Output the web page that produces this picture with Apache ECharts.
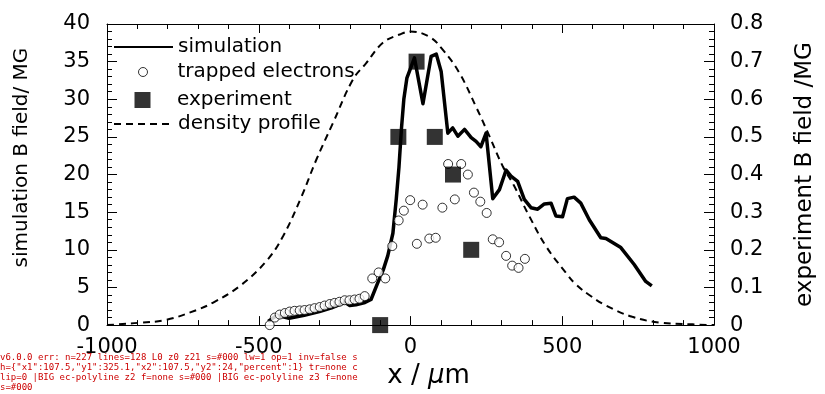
<!DOCTYPE html>
<html>
<head>
<meta charset="utf-8">
<script src="https://cdn.jsdelivr.net/npm/echarts@6/dist/echarts.min.js"></script>
<style>
html, body { margin: 0; padding: 0; background: #fff; }
#chart { width: 825px; height: 394px; }
#dbg { position: absolute; left: 0; top: 352px; width: 360px; font: 9px monospace; line-height: 10px; color: #c00; word-break: break-all; }
</style>
</head>
<body>
<div id="chart"></div>
<div id="dbg"></div>
<script>
const errs = [];
window.onerror = function (m) { errs.push(String(m)); };

// simulation B field (left axis, MG)
const simX = [-469, -440, -400, -350, -300, -260, -230, -215, -200, -180, -150, -130, -108, -90, -75, -58, -47, -38, -30, -22, -12, 13, 41, 68, 85, 101, 123, 139, 156, 178, 200, 216, 232, 249, 271, 293, 315, 331, 353, 375, 397, 419, 441, 463, 479, 501, 517, 539, 561, 589, 627, 644, 693, 737, 775, 795];
const simY = [0.5, 1.3, 0.9, 1.3, 1.8, 2.3, 2.8, 3.0, 2.6, 2.7, 3.0, 3.4, 5.6, 7.3, 9.2, 12.2, 16.7, 21, 26, 30, 32.8, 35.5, 29.4, 35.7, 36, 33.7, 25.5, 26.2, 25.1, 26, 24.9, 24.4, 23.7, 25.5, 16.8, 18, 20.6, 19.8, 19.1, 16.7, 15.6, 15.4, 16.1, 16.2, 14.5, 14.4, 16.8, 17.0, 16.2, 14.0, 11.6, 11.5, 10.3, 8.05, 5.8, 5.2];

// trapped electrons (left axis)
const trapX = [-464, -447, -431, -414, -398, -382, -365, -349, -332, -316, -299, -283, -266, -250, -234, -217, -201, -184, -168, -151, -126, -105, -83, -60, -39, -22, -1, 21, 40, 62, 83, 105, 124, 146, 167, 189, 209, 230, 251, 271, 292, 315, 335, 356, 377];
const trapY = [0, 1.0, 1.4, 1.6, 1.8, 1.9, 1.95, 2.0, 2.1, 2.25, 2.4, 2.6, 2.8, 2.95, 3.1, 3.3, 3.3, 3.4, 3.5, 3.85, 6.2, 7.0, 6.2, 10.5, 13.9, 15.2, 16.6, 10.8, 16.0, 11.5, 11.6, 15.6, 21.4, 16.7, 21.4, 20.0, 17.6, 16.4, 14.9, 11.4, 11.0, 9.2, 7.9, 7.6, 8.8];

// experiment B field (right axis, MG)
const expX = [-100, -40, 20, 80, 140, 200];
const expY = [0, 0.5, 0.7, 0.5, 0.4, 0.2];

// density profile (drawn against left axis)
const denX = [-1000, -963, -897, -804, -705, -650, -562, -475, -420, -360, -310, -256, -190, -146, -91, -36, 0, 62, 106, 161, 216, 260, 304, 340, 391, 446, 512, 545, 589, 644, 731, 819, 929, 1000];
const denY = [0, 0.1, 0.3, 0.7, 2.0, 3.0, 5.2, 8.5, 11.8, 17, 22, 26.8, 32.6, 34.8, 37.5, 38.6, 39, 38.3, 36.6, 33.5, 29, 25.1, 21.1, 18.6, 14.5, 10.5, 6.95, 5.4, 4.0, 2.6, 1.1, 0.35, 0.1, 0];

const FONT = 'DejaVu Sans';

function pairs(xs, ys) {
  return xs.map((x, i) => [x, ys[i]]);
}

function legendRow(name, left, top, h, extra) {
  return Object.assign({
    data: [name],
    orient: 'vertical',
    left: left,
    top: top,
    padding: 0,
    itemWidth: 59,
    itemHeight: h,
    selectedMode: false,
    textStyle: { fontFamily: FONT, fontSize: 20, color: '#000' }
  }, extra || {});
}

function frameLine() {
  return { color: '#000', width: 1 };
}

function xAxisBase(pos) {
  return {
    type: 'value', min: -1000, max: 1000, interval: 500, position: pos,
    axisLine: { show: true, onZero: false, lineStyle: frameLine() },
    axisTick: { show: true, inside: true, length: 9, lineStyle: frameLine() },
    minorTick: { show: true, splitNumber: 5, length: 5, lineStyle: frameLine() },
    splitLine: { show: false },
    minorSplitLine: { show: false }
  };
}

function yAxisBase(pos, max, interval) {
  return {
    type: 'value', min: 0, max: max, interval: interval, position: pos,
    axisLine: { show: true, onZero: false, lineStyle: frameLine() },
    axisTick: { show: true, inside: true, length: 10, lineStyle: frameLine() },
    minorTick: { show: true, splitNumber: 5, length: 5, lineStyle: frameLine() },
    splitLine: { show: false },
    minorSplitLine: { show: false }
  };
}

const chart = echarts.init(document.getElementById('chart'));
try {
chart.setOption({
  animation: false,
  grid: { left: 107, right: 110, top: 24, bottom: 68 },
  legend: [
    legendRow('simulation', 113, 37, 14, { itemStyle: { opacity: 0 } }),
    legendRow('trapped electrons', 138, 62, 9, { itemStyle: { borderWidth: 1, borderColor: '#000' } }),
    legendRow('experiment', 134.5, 90, 16, { data: [{ name: 'experiment', icon: 'path://M0 0H10V10H0Z' }], symbolKeepAspect: true }),
    legendRow('density profile', 113, 114, 14, { itemStyle: { opacity: 0 } })
  ],
  xAxis: [Object.assign(xAxisBase('bottom'), {
    name: '{a|x / }{b|μ}{a|m}',
    nameLocation: 'middle',
    nameGap: 34,
    nameTextStyle: {
      padding: [0, 0, 0, 36],
      rich: {
        a: { fontFamily: FONT, fontSize: 26, color: '#000' },
        b: { fontFamily: FONT, fontSize: 26, fontStyle: 'italic', color: '#000' }
      }
    },
    axisLabel: { fontFamily: FONT, fontSize: 21, color: '#000', margin: 12, formatter: function (v) { return String(v); } }
  }), Object.assign(xAxisBase('top'), { axisLabel: { show: false } })],
  yAxis: [Object.assign(yAxisBase('left', 40, 5), {
    name: 'simulation B field/ MG',
    nameLocation: 'middle',
    nameGap: 75,
    nameTextStyle: { fontFamily: FONT, fontSize: 20, color: '#000', padding: [0, 0, 0, 34] },
    axisLabel: { fontFamily: FONT, fontSize: 21, color: '#000', margin: 17 }
  }), Object.assign(yAxisBase('right', 0.8, 0.1), {
    name: 'experiment B field /MG',
    nameLocation: 'middle',
    nameGap: 80,
    nameTextStyle: { fontFamily: FONT, fontSize: 23, color: '#000' },
    axisLabel: { fontFamily: FONT, fontSize: 21, color: '#000', margin: 16 }
  })],
  series: [{
    name: 'density profile', type: 'line', symbol: 'none', smooth: 0.4,
    lineStyle: { color: '#000', width: 2, type: [7, 5] },
    data: pairs(denX, denY), z: 2
  }, {
    name: 'simulation', type: 'line', symbol: 'none',
    lineStyle: { color: '#000', width: 3.5, join: 'round' },
    data: pairs(simX, simY), z: 3
  }, {
    name: 'trapped electrons', type: 'scatter', symbol: 'circle', symbolSize: 9,
    itemStyle: { color: '#fff', borderColor: '#000', borderWidth: 1 },
    data: pairs(trapX, trapY), z: 4
  }, {
    name: 'experiment', type: 'scatter', yAxisIndex: 1, symbol: 'rect', symbolSize: 16,
    itemStyle: { color: '#000' },
    data: pairs(expX, expY), z: 5
  }]
});
} catch (e) { errs.push('SET:' + e.message); }

// diagnostics: what happened to the frame lines
setTimeout(function () {
  let info = 'v' + echarts.version + ' err:' + errs.join(';');
  try {
    const list = chart.getZr().storage.getDisplayList(true);
    const lines = list.filter(el => el.type === 'line');
    info += ' n=' + list.length + ' lines=' + lines.length;
    const l = lines[0];
    if (l) {
      info += ' L0 z' + l.z + ' z2' + l.z2 + ' s=' + l.style.stroke + ' lw=' + l.style.lineWidth + ' op=' + l.style.opacity +
        ' inv=' + l.invisible + ' sh=' + JSON.stringify(l.shape) + ' tr=' + (l.transform ? l.transform.map(v => +v.toFixed(2)).join(',') : 'none') +
        ' clip=' + (l.__clipPaths ? l.__clipPaths.length : 0);
    }
    list.forEach(function (el) {
      const r = el.getBoundingRect();
      if (r.width > 300 && r.height > 150) {
        info += ' |BIG ' + el.type + ' z' + el.z + ' f=' + el.style.fill + ' s=' + el.style.stroke;
      }
    });
  } catch (e) { info += ' DBG:' + e.message; }
  document.getElementById('dbg').textContent = info;
}, 50);
</script>
</body>
</html>
